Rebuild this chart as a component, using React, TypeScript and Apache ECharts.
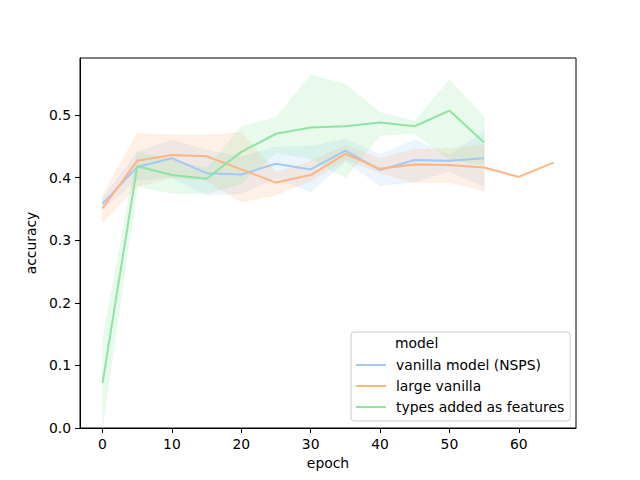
import React, { useEffect, useRef } from "react";
import * as echarts from "echarts";

// epochs
const epochsShort = [0, 5, 10, 15, 20, 25, 30, 35, 40, 45, 50, 55];
const epochsLong = [0, 5, 10, 15, 20, 25, 30, 35, 40, 45, 50, 55, 60, 65];

// vanilla model (NSPS)
const vanillaMean = [0.358, 0.417, 0.431, 0.407, 0.405, 0.422, 0.413, 0.443, 0.412, 0.428, 0.427, 0.431];
const vanillaLo = [0.35, 0.396, 0.4, 0.372, 0.374, 0.4, 0.377, 0.426, 0.387, 0.393, 0.41, 0.386];
const vanillaHi = [0.367, 0.441, 0.46, 0.444, 0.433, 0.449, 0.45, 0.461, 0.437, 0.46, 0.436, 0.474];

// large vanilla
const largeMean = [0.351, 0.427, 0.436, 0.434, 0.413, 0.392, 0.404, 0.438, 0.414, 0.421, 0.42, 0.416, 0.401, 0.424];
const largeLo = [0.328, 0.386, 0.4, 0.395, 0.361, 0.372, 0.394, 0.429, 0.407, 0.392, 0.392, 0.378];
const largeHi = [0.372, 0.471, 0.468, 0.468, 0.472, 0.408, 0.426, 0.451, 0.431, 0.445, 0.447, 0.452];

// types added as features
const typesMean = [0.072, 0.418, 0.404, 0.398, 0.441, 0.47, 0.48, 0.482, 0.488, 0.482, 0.507, 0.456];
const typesLo = [0.003, 0.386, 0.375, 0.375, 0.39, 0.44, 0.43, 0.4, 0.467, 0.471, 0.429, 0.42];
const typesHi = [0.14, 0.441, 0.428, 0.415, 0.481, 0.496, 0.564, 0.549, 0.504, 0.49, 0.556, 0.497];

const seriesNames = ["vanilla model (NSPS)", "large vanilla", "types added as features"];
const colors = ["#a1c9f4", "#ffb482", "#8de5a1"];

const xTicks = [0, 10, 20, 30, 40, 50, 60];
const yTicks = [0, 0.1, 0.2, 0.3, 0.4, 0.5];

const FONT = "DejaVu Sans";
const FS = 13.9;

function band(xs: number[], lo: number[], hi: number[], color: string) {
  return {
    type: "custom",
    silent: true,
    z: 1,
    data: xs.map((x, i) => [x, lo[i], hi[i]]),
    encode: { x: 0, y: [1, 2] },
    renderItem: (params: any, api: any) => {
      if (params.dataIndex !== 0) return null;
      const pts: number[][] = [];
      for (let i = 0; i < xs.length; i++) pts.push(api.coord([xs[i], hi[i]]));
      for (let i = xs.length - 1; i >= 0; i--) pts.push(api.coord([xs[i], lo[i]]));
      return {
        type: "polygon",
        shape: { points: pts },
        style: { fill: color, opacity: 0.2, stroke: color, lineWidth: 0.5 },
      };
    },
  };
}

function line(name: string, xs: number[], ys: number[], color: string) {
  return {
    type: "line",
    name,
    z: 3,
    data: xs.map((x, i) => [x, ys[i]]),
    symbol: "none",
    showSymbol: false,
    lineStyle: { color, width: 2 },
    itemStyle: { color },
  };
}

export default function App() {
  const ref = useRef<HTMLDivElement>(null);
  useEffect(() => {
    if (!ref.current) return;
    const chart = echarts.init(ref.current, null, { renderer: "svg" });
    chart.setOption({
      animation: false,
      backgroundColor: "#ffffff",
      textStyle: { fontFamily: FONT },
      grid: {
        left: 80,
        right: 64,
        top: 58,
        bottom: 52,
        show: true,
        borderColor: "#000",
        borderWidth: 1,
        backgroundColor: "transparent",
      },
      xAxis: {
        type: "value",
        min: -3.25,
        max: 68.25,
        name: "epoch",
        nameLocation: "middle",
        nameGap: 27,
        nameTextStyle: { fontFamily: FONT, fontSize: FS, color: "#000" },
        splitLine: { show: false },
        axisLine: { show: true, onZero: false, lineStyle: { color: "#000", width: 1 } },
        axisTick: { show: true, length: 5, lineStyle: { color: "#000" }, customValues: xTicks },
        axisLabel: {
          margin: 9,
          color: "#000",
          fontFamily: FONT,
          fontSize: FS,
          customValues: xTicks,
          formatter: (v: number) => String(v),
        },
      },
      yAxis: {
        type: "value",
        min: 0,
        max: 0.591,
        name: "accuracy",
        nameLocation: "middle",
        nameRotate: 90,
        nameGap: 37,
        nameTextStyle: { fontFamily: FONT, fontSize: FS, color: "#000" },
        splitLine: { show: false },
        axisLine: { show: true, onZero: false, lineStyle: { color: "#000", width: 1 } },
        axisTick: { show: true, length: 5, lineStyle: { color: "#000" }, customValues: yTicks },
        axisLabel: {
          margin: 9,
          color: "#000",
          fontFamily: FONT,
          fontSize: FS,
          customValues: yTicks,
          formatter: (v: number) => v.toFixed(1),
        },
      },
      legend: {
        show: true,
        orient: "vertical",
        left: 351,
        top: 332,
        padding: [26, 6, 7, 4],
        itemWidth: 30,
        itemHeight: 14,
        itemGap: 7,
        backgroundColor: "rgba(255,255,255,0.8)",
        borderColor: "#cccccc",
        borderWidth: 1,
        borderRadius: 3,
        data: seriesNames,
        itemStyle: { opacity: 0 },
        lineStyle: { width: 2 },
        textStyle: { fontFamily: FONT, fontSize: FS, color: "#000", padding: [0, 0, 0, 5] },
        z: 10,
      },
      graphic: [
        {
          type: "text",
          left: 395,
          top: 336,
          z: 100,
          style: { text: "model", font: `${FS}px "${FONT}"`, fill: "#000" },
        },
      ],
      series: [
        band(epochsShort, vanillaLo, vanillaHi, colors[0]),
        band(epochsShort, largeLo, largeHi, colors[1]),
        band(epochsShort, typesLo, typesHi, colors[2]),
        line(seriesNames[0], epochsShort, vanillaMean, colors[0]),
        line(seriesNames[1], epochsLong, largeMean, colors[1]),
        line(seriesNames[2], epochsShort, typesMean, colors[2]),
      ],
    });
    return () => chart.dispose();
  }, []);
  return (
    <div
      ref={ref}
      style={{ position: "absolute", left: 0, top: 0, width: 640, height: 480 }}
    />
  );
}
